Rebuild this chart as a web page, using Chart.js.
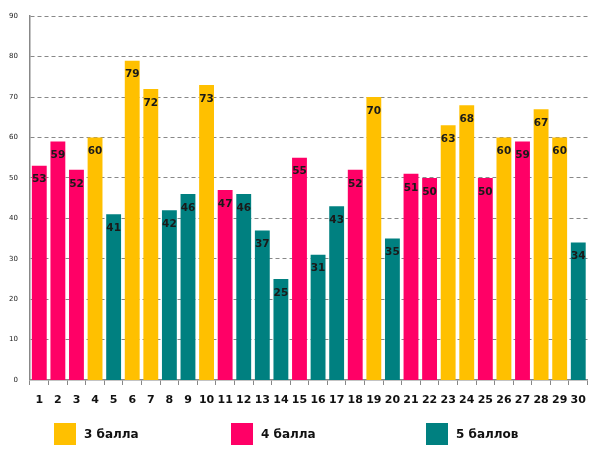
<!DOCTYPE html>
<html>
<head>
<meta charset="utf-8">
<script src="https://cdn.jsdelivr.net/npm/chart.js@4/dist/chart.umd.min.js"></script>
<style>
  html, body { margin: 0; padding: 0; background: #fff; }
  #wrap { position: relative; width: 595px; height: 459px; }
  #legend { position: absolute; left: 0; top: 0; width: 595px; height: 459px; pointer-events: none; }
  .item { position: absolute; top: 423px; display: flex; align-items: center;
          font: bold 12px "DejaVu Sans", sans-serif; color: #111; }
  .box { width: 22px; height: 22px; margin-right: 8px; }
</style>
</head>
<body>
<div id="wrap">
  <canvas id="myChart" width="595" height="459"></canvas>
  <div id="legend"></div>
</div>
<script>
const students = ['1','2','3','4','5','6','7','8','9','10','11','12','13','14','15',
  '16','17','18','19','20','21','22','23','24','25','26','27','28','29','30'];
const scores = [53, 59, 52, 60, 41, 79, 72, 42, 46, 73, 47, 46, 37, 25, 55,
  31, 43, 52, 70, 35, 51, 50, 63, 68, 50, 60, 59, 67, 60, 34];
// grade for each student: 3, 4 or 5
const grades = [4, 4, 4, 3, 5, 3, 3, 5, 5, 3, 4, 5, 5, 5, 4,
  5, 5, 4, 3, 5, 4, 4, 3, 3, 4, 3, 4, 3, 3, 5];
const gradeNames = { 3: '3 балла', 4: '4 балла', 5: '5 баллов' };
const gradeColors = { 3: '#FFC000', 4: '#FF0066', 5: '#008080' };
const yTicks = [0, 10, 20, 30, 40, 50, 60, 70, 80, 90];

const datasets = [3, 4, 5].map(function (g) {
  return {
    label: gradeNames[g],
    data: scores.map((v, i) => (grades[i] === g ? v : null)),
    backgroundColor: gradeColors[g],
    barPercentage: 0.8,
    categoryPercentage: 1.0,
  };
});

const valueLabels = {
  id: 'valueLabels',
  afterDatasetsDraw(chart) {
    const ctx = chart.ctx;
    ctx.save();
    ctx.font = 'bold 10.5px "DejaVu Sans", sans-serif';
    ctx.fillStyle = '#1a1a1a';
    ctx.textAlign = 'center';
    ctx.textBaseline = 'middle';
    chart.data.datasets.forEach(function (ds, di) {
      const meta = chart.getDatasetMeta(di);
      meta.data.forEach(function (bar, i) {
        if (ds.data[i] === null) return;
        ctx.fillText(String(ds.data[i]), bar.x, bar.y + 14);
      });
    });
    ctx.restore();
  },
};

new Chart(document.getElementById('myChart'), {
  type: 'bar',
  data: { labels: students, datasets: datasets },
  options: {
    responsive: false,
    animation: false,
    layout: { padding: { top: 11, right: 5, bottom: 49, left: 0 } },
    plugins: { legend: { display: false }, tooltip: { enabled: false } },
    scales: {
      x: {
        stacked: true,
        grid: { drawOnChartArea: false, drawTicks: true, tickLength: 5, color: '#888', offset: true },
        border: { color: '#888', width: 1.5 },
        ticks: {
          color: '#111',
          padding: 9,
          maxRotation: 0,
          autoSkip: false,
          font: { family: 'DejaVu Sans', size: 11, weight: 'bold' },
        },
        afterFit(scale) { scale.height = 30; },
      },
      y: {
        stacked: true,
        min: 0,
        max: 90,
        afterBuildTicks(scale) { scale.ticks = yTicks.map((v) => ({ value: v })); },
        grid: {
          color: '#888',
          drawTicks: false,
          lineWidth: (c) => (c.tick && c.tick.value === 0 ? 0 : 1),
        },
        // in v4 border.dash sets the dash of the grid lines
        border: { color: '#888', width: 1.5, dash: [4, 3] },
        ticks: {
          color: '#222',
          padding: 12,
          font: { family: 'DejaVu Sans', size: 7 },
        },
        afterFit(scale) { scale.width = 30; },
      },
    },
  },
  plugins: [valueLabels],
});

// legend under the chart
const legendX = { 3: 54, 4: 231, 5: 426 };
const legend = document.getElementById('legend');
[3, 4, 5].forEach(function (g) {
  const item = document.createElement('div');
  item.className = 'item';
  item.style.left = legendX[g] + 'px';
  const box = document.createElement('div');
  box.className = 'box';
  box.style.background = gradeColors[g];
  const text = document.createElement('span');
  text.textContent = gradeNames[g];
  item.appendChild(box);
  item.appendChild(text);
  legend.appendChild(item);
});
</script>
</body>
</html>
